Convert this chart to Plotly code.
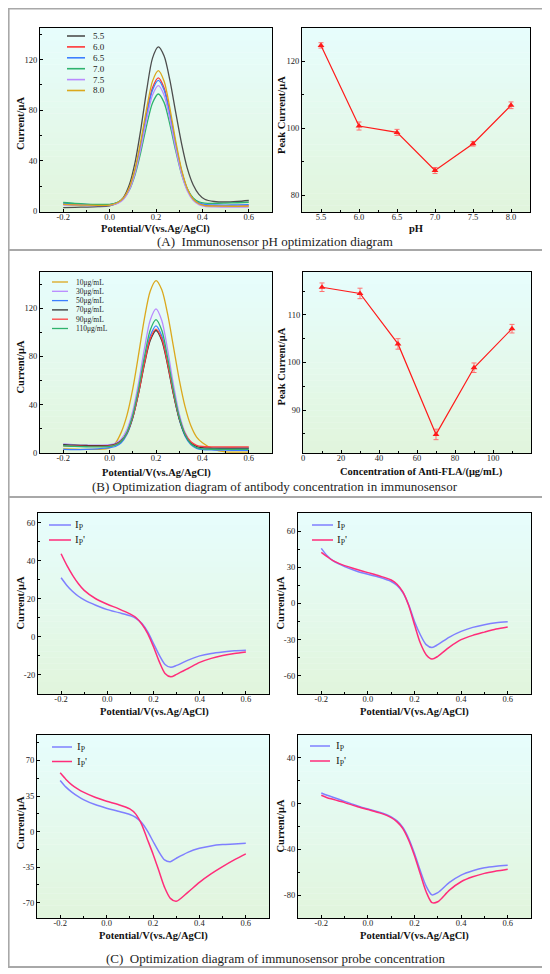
import plotly.graph_objects as go

SERIF = "Liberation Serif"

# ---------------- (A) pH optimization ----------------
ph_names = ["5.5", "6.0", "6.5", "7.0", "7.5", "8.0"]
ph_colors = ["#4d4d4d", "#ff3535", "#3d7fff", "#2eb36e", "#b98aff", "#dba81c"]
pot_a = [-0.2, -0.15, -0.1, -0.05, 0.0, 0.035, 0.06, 0.085, 0.11, 0.135, 0.16, 0.185, 0.21,
         0.235, 0.26, 0.285, 0.31, 0.335, 0.36, 0.385, 0.41, 0.45, 0.5, 0.55, 0.6]
cur_ph55 = [3.0, 3.2, 3.4, 3.7, 4.4, 6.6, 11.1, 21.0, 39.0, 65.5, 96.0, 121.2, 130.0,
            122.8, 103.5, 78.2, 53.8, 34.0, 21.1, 13.5, 9.6, 7.8, 7.4, 7.8, 8.6]
cur_ph60 = [5.8, 5.3, 5.0, 4.9, 5.1, 6.9, 10.4, 18.2, 32.3, 53.3, 77.6, 97.7, 105.5,
            97.6, 77.4, 53.1, 32.0, 17.5, 9.7, 6.1, 4.7, 4.3, 4.2, 4.2, 4.3]
cur_ph65 = [6.5, 5.9, 5.5, 5.3, 5.4, 7.1, 10.5, 18.1, 32.0, 52.5, 76.2, 95.9, 103.6,
            95.9, 76.2, 52.4, 31.8, 17.9, 10.3, 6.9, 5.5, 5.1, 5.0, 5.1, 5.3]
cur_ph70 = [7.0, 6.3, 5.8, 5.5, 5.6, 7.2, 10.2, 16.9, 29.2, 47.3, 68.3, 85.7, 92.8,
            86.0, 68.7, 47.8, 29.6, 17.4, 10.7, 7.6, 6.5, 6.3, 6.5, 6.8, 7.2]
cur_ph75 = [5.0, 4.8, 4.6, 4.5, 4.8, 6.3, 9.6, 16.9, 30.3, 50.1, 73.0, 92.0, 99.4,
            91.9, 72.7, 49.6, 29.6, 16.1, 8.7, 5.3, 4.0, 3.6, 3.4, 3.3, 3.3]
cur_ph80 = [5.5, 5.1, 4.9, 4.8, 5.0, 7.0, 10.7, 18.9, 33.9, 56.1, 81.7, 103.0, 111.3,
            102.9, 81.5, 55.6, 33.2, 18.1, 9.8, 6.0, 4.6, 4.2, 4.1, 4.0, 4.1]
ph_curves = [cur_ph55, cur_ph60, cur_ph65, cur_ph70, cur_ph75, cur_ph80]

ph_values = [5.5, 6.0, 6.5, 7.0, 7.5, 8.0]
ph_peak = [124.8, 100.7, 98.8, 87.4, 95.4, 106.9]
ph_err = [0.8, 1.2, 0.9, 0.9, 0.7, 1.0]

# ---------------- (B) antibody concentration ----------------
conc_names = ["10μg/mL", "30μg/mL", "50μg/mL", "70μg/mL", "90μg/mL", "110μg/mL"]
conc_colors = ["#dba81c", "#b98aff", "#3d7fff", "#333333", "#ff4040", "#2eb36e"]
pot_b = [-0.2, -0.15, -0.1, -0.05, 0.0, 0.025, 0.05, 0.075, 0.1, 0.125, 0.15, 0.175, 0.2,
         0.225, 0.25, 0.275, 0.3, 0.325, 0.35, 0.375, 0.4, 0.45, 0.5, 0.55, 0.6]
cur_c10 = [3.5, 3.2, 3.0, 3.0, 4.3, 8.2, 17.1, 31.4, 53.3, 81.7, 111.3, 134.1, 142.8,
           135.3, 115.2, 88.3, 61.0, 38.6, 22.7, 13.2, 8.5, 3.0, 1.0, 0.8, 0.8]
cur_c30 = [7.5, 6.8, 6.5, 6.5, 7.0, 8.1, 11.5, 19.4, 34.6, 58.2, 86.3, 110.0, 119.4,
           109.8, 85.6, 56.9, 32.7, 17.2, 9.1, 5.6, 4.5, 4.0, 4.0, 4.0, 4.0]
cur_c50 = [3.0, 2.8, 3.0, 3.5, 4.4, 5.4, 8.5, 15.6, 29.2, 50.4, 75.7, 97.0, 105.4,
           96.9, 75.3, 49.6, 28.1, 14.2, 7.0, 3.9, 2.9, 2.5, 2.3, 2.2, 2.2]
cur_c70 = [7.0, 6.5, 6.2, 6.0, 6.4, 7.4, 10.1, 16.8, 29.6, 49.6, 73.4, 93.2, 101.5,
           93.3, 72.9, 48.8, 28.4, 15.2, 8.3, 5.4, 4.4, 4.0, 4.0, 4.0, 4.0]
cur_c90 = [6.0, 5.7, 5.5, 5.5, 5.9, 6.9, 9.8, 16.6, 29.7, 50.0, 74.2, 94.6, 102.7,
           94.6, 74.1, 49.7, 29.3, 16.1, 9.3, 6.4, 5.4, 5.1, 5.0, 5.0, 5.0]
cur_c110 = [6.0, 5.5, 5.2, 5.0, 5.4, 6.5, 9.6, 17.0, 31.3, 53.4, 79.7, 101.8, 110.6,
            101.7, 79.1, 52.3, 29.8, 15.3, 7.7, 4.5, 3.4, 3.1, 3.0, 3.0, 3.0]
conc_curves = [cur_c10, cur_c30, cur_c50, cur_c70, cur_c90, cur_c110]

conc_values = [10, 30, 50, 70, 90, 110]
conc_peak = [115.8, 114.5, 103.9, 84.9, 98.9, 107.1]
conc_err = [0.9, 1.1, 1.1, 1.1, 1.0, 0.9]

# ---------------- (C) probe concentration ----------------
pot_c = [-0.2, -0.175, -0.15, -0.125, -0.1, -0.05, 0.0, 0.05, 0.1, 0.125, 0.15, 0.175,
         0.2, 0.225, 0.25, 0.275, 0.3, 0.35, 0.4, 0.45, 0.5, 0.55, 0.6]
ip_tl = [31.0, 27.0, 23.8, 21.3, 19.4, 16.6, 14.3, 12.7, 11.0, 9.6, 7.0, 2.6,
         -3.5, -9.6, -14.5, -16.0, -15.0, -12.2, -10.0, -8.7, -7.9, -7.3, -7.0]
ipp_tl = [43.6, 37.5, 32.3, 27.9, 24.4, 20.0, 17.1, 14.7, 11.9, 10.0, 6.6, 1.7,
          -5.2, -13.0, -19.2, -21.0, -19.7, -16.6, -13.4, -11.3, -9.8, -8.7, -7.9]
ip_tr = [45.7, 39.6, 35.5, 32.8, 30.6, 27.0, 24.2, 21.7, 18.2, 14.9, 9.1, -1.1,
         -14.9, -25.9, -34.1, -36.5, -34.1, -27.8, -23.1, -19.8, -17.6, -16.0, -15.1]
ipp_tr = [42.4, 38.8, 35.5, 33.3, 31.4, 28.4, 25.6, 22.8, 19.5, 16.0, 9.6, -1.7,
          -17.6, -32.8, -42.4, -46.0, -43.8, -36.1, -30.0, -26.4, -23.7, -21.2, -19.5]
ip_bl = [50.3, 43.7, 38.8, 34.8, 31.5, 26.6, 23.0, 20.0, 16.8, 14.1, 9.2, 1.0,
         -9.5, -19.7, -27.9, -29.6, -26.3, -20.4, -16.4, -14.1, -12.8, -12.2, -11.5]
ipp_bl = [57.8, 51.3, 46.0, 42.1, 38.8, 33.8, 29.9, 26.6, 22.3, 17.4, 7.6, -7.2,
          -22.0, -38.4, -54.9, -65.7, -68.6, -59.8, -50.0, -41.7, -34.5, -27.9, -22.0]
ip_br = [9.3, 7.3, 5.5, 3.8, 2.0, -1.5, -4.7, -7.6, -11.6, -15.1, -20.9, -30.5,
         -43.6, -58.7, -72.1, -79.8, -77.9, -68.9, -62.5, -58.7, -56.1, -54.7, -53.8]
ipp_br = [7.3, 5.2, 3.8, 2.3, 0.9, -2.3, -5.2, -8.1, -12.2, -16.0, -21.8, -32.0,
          -45.6, -61.6, -77.0, -86.5, -85.8, -75.6, -68.3, -64.0, -61.0, -59.0, -57.3]
ip_names = ["I<sub>P</sub>", "I<sub>P</sub>'"]
ip_colors = ["#7f7fff", "#ff2d7a"]

# tick labels
pot_ticks = [-0.2, 0.0, 0.2, 0.4, 0.6]
pot_labels = ["-0.2", "0.0", "0.2", "0.4", "0.6"]
ph_ticks = [5.5, 6.0, 6.5, 7.0, 7.5, 8.0]
ph_labels = ["5.5", "6.0", "6.5", "7.0", "7.5", "8.0"]
conc_ticks = [0, 20, 40, 60, 80, 100]
y_ticks = {
    1: [0, 40, 80, 120],
    2: [80, 100, 120],
    3: [0, 40, 80, 120],
    4: [90, 100, 110],
    5: [-20, 0, 20, 40, 60],
    6: [-60, -30, 0, 30, 60],
    7: [-70, -35, 0, 35, 70],
    8: [-80, -40, 0, 40],
}

# ---------------- layout geometry ----------------
# positions below are page pixels; the page body adds an 8 px margin
PAGE_W, PAGE_H = 550, 974
OFF = 8
W, H = PAGE_W - OFF, PAGE_H - OFF


def fx(p):
    return max(p - OFF, 0.6) / W


def fy(p):
    return 1 - max(p - OFF, 0.6) / H


# left, right, top, bottom of each plot area
areas = {
    1: (40, 272, 28, 212),
    2: (302, 530, 28, 212),
    3: (40, 272, 272, 453),
    4: (303, 531, 272, 453),
    5: (38, 269, 513, 694),
    6: (298, 531, 513, 694),
    7: (37, 269, 735, 918),
    8: (298, 531, 735, 918),
}
x_ranges = {1: [-0.3, 0.7], 2: [5.25, 8.25], 3: [-0.3, 0.7], 4: [0, 120],
            5: [-0.3, 0.7], 6: [-0.3, 0.7], 7: [-0.3, 0.7], 8: [-0.3, 0.7]}
y_ranges = {1: [-0.5, 145], 2: [75, 130], 3: [0, 150], 4: [81, 119],
            5: [-30, 65], 6: [-75, 75], 7: [-85, 95], 8: [-100, 60]}

POT = "Potential/V(vs.Ag/AgCl)"
CUR = "Current/μA"
PEAK = "Peak Current/μA"
# axis title text with (x centre, y) and (x, y centre) page positions
x_titles = {1: (POT, 155, 229), 2: ("pH", 416, 229), 3: (POT, 156, 473),
            4: ("Concentration of Anti-FLA/(μg/mL)", 421, 472),
            5: (POT, 154, 712), 6: (POT, 414, 712), 7: (POT, 153, 936), 8: (POT, 414, 936)}
y_titles = {1: (CUR, 20, 124), 2: (PEAK, 282, 115), 3: (CUR, 19.5, 367), 4: (PEAK, 280.5, 367),
            5: (CUR, 19.5, 603), 6: (CUR, 279.5, 603), 7: (CUR, 19.5, 823), 8: (CUR, 279.5, 826)}


def ax(k):
    return ("x", "y") if k == 1 else (f"x{k}", f"y{k}")


fig = go.Figure()

# (A) left: DPV curves at different pH
for name, col, ys in zip(ph_names, ph_colors, ph_curves):
    fig.add_trace(go.Scatter(x=pot_a, y=ys, mode="lines", name=name,
                             line=dict(color=col, width=1.3, shape="spline", smoothing=0.8),
                             xaxis="x", yaxis="y", showlegend=False))

# (A) right: peak current vs pH
fig.add_trace(go.Scatter(x=ph_values, y=ph_peak, mode="lines+markers",
                         line=dict(color="#ff1a1a", width=1.2),
                         marker=dict(symbol="triangle-up", size=6, color="#ff1a1a"),
                         error_y=dict(type="data", array=ph_err, color="#ff7070",
                                      thickness=1, width=2.5),
                         xaxis="x2", yaxis="y2", showlegend=False))

# (B) left: DPV curves at different antibody concentrations
for name, col, ys in zip(conc_names, conc_colors, conc_curves):
    fig.add_trace(go.Scatter(x=pot_b, y=ys, mode="lines", name=name,
                             line=dict(color=col, width=1.3, shape="spline", smoothing=0.8),
                             xaxis="x3", yaxis="y3", showlegend=False))

# (B) right: peak current vs concentration
fig.add_trace(go.Scatter(x=conc_values, y=conc_peak, mode="lines+markers",
                         line=dict(color="#ff1a1a", width=1.2),
                         marker=dict(symbol="triangle-up", size=6, color="#ff1a1a"),
                         error_y=dict(type="data", array=conc_err, color="#ff7070",
                                      thickness=1, width=2.5),
                         xaxis="x4", yaxis="y4", showlegend=False))

# (C) four CV panels
c_sets = {5: (ip_tl, ipp_tl), 6: (ip_tr, ipp_tr), 7: (ip_bl, ipp_bl), 8: (ip_br, ipp_br)}
for k, pair in c_sets.items():
    xa, ya = ax(k)
    for ys, col, name in zip(pair, ip_colors, ip_names):
        fig.add_trace(go.Scatter(x=pot_c, y=ys, mode="lines", name=name,
                                 line=dict(color=col, width=1.5, shape="spline", smoothing=0.8),
                                 xaxis=xa, yaxis=ya, showlegend=False))

# axes
tickfont = dict(family=SERIF, size=8.5, color="#222")
titlefont = dict(family=SERIF, size=10.5, color="#111", weight="bold")
x_minor = {2: 0.25, 4: 10}
y_minor = {1: 20, 2: 10, 3: 20, 4: 5, 5: 10, 6: 15, 7: 17.5, 8: 20}

layout_axes = {}
for k, (l, r, t, b) in areas.items():
    xa, ya = ax(k)
    xname = "xaxis" if k == 1 else f"xaxis{k}"
    yname = "yaxis" if k == 1 else f"yaxis{k}"
    common = dict(showline=True, mirror=True, linecolor="black", linewidth=1.2,
                  ticks="inside", ticklen=3, tickwidth=1, tickcolor="black",
                  showgrid=False, zeroline=False, tickfont=tickfont, automargin=False)
    if k == 2:
        xt, xl = ph_ticks, ph_labels
    elif k == 4:
        xt, xl = conc_ticks, [str(v) for v in conc_ticks]
    else:
        xt, xl = pot_ticks, pot_labels
    layout_axes[xname] = dict(
        common, domain=[fx(l), fx(r)], anchor=ya, range=x_ranges[k],
        tickmode="array", tickvals=xt, ticktext=xl, ticklabelstandoff=-3,
        minor=dict(tickmode="linear", tick0=xt[0], dtick=x_minor.get(k, 0.1),
                   ticks="inside", ticklen=2, tickcolor="black"))
    yt = y_ticks[k]
    layout_axes[yname] = dict(
        common, domain=[fy(b), fy(t)], anchor=xa, range=y_ranges[k],
        tickmode="array", tickvals=yt, ticktext=[str(v) for v in yt],
        minor=dict(tickmode="linear", tick0=yt[0], dtick=y_minor[k],
                   ticks="inside", ticklen=2, tickcolor="black"))

fig.update_layout(**layout_axes)

# gradient plot backgrounds (cyan at top -> pale green at bottom)
shapes = []
top_rgb = (231, 253, 253)
bot_rgb = (225, 245, 220)
n_bands = 30
for k in areas:
    xa, ya = ax(k)
    for i in range(n_bands):
        f = (i + 0.5) / n_bands
        c = tuple(round(bot_rgb[j] + (top_rgb[j] - bot_rgb[j]) * f) for j in range(3))
        shapes.append(dict(type="rect", xref=f"{xa} domain", yref=f"{ya} domain",
                           x0=0, x1=1, y0=i / n_bands, y1=(i + 1) / n_bands + 0.002,
                           fillcolor=f"rgb{c}", line=dict(width=0), layer="below"))

# panel frames
for top, bottom in [(7, 250), (250, 497), (497, 967)]:
    shapes.append(dict(type="rect", xref="paper", yref="paper",
                       x0=fx(7), x1=fx(543), y0=fy(bottom), y1=fy(top),
                       line=dict(color="#a8a8a8", width=2), fillcolor="rgba(0,0,0,0)"))

annotations = []
captions = [("(A)  Immunosensor pH optimization diagram", 241),
            ("(B) Optimization diagram of antibody concentration in immunosensor", 487),
            ("(C)  Optimization diagram of immunosensor probe concentration", 958)]
for text, y in captions:
    annotations.append(dict(text=text, x=fx(275), y=fy(y), xref="paper", yref="paper",
                            showarrow=False, xanchor="center", yanchor="middle",
                            font=dict(family=SERIF, size=13, color="#222")))

# axis titles
for text, x, y in x_titles.values():
    annotations.append(dict(text=text, x=fx(x), y=fy(y), xref="paper", yref="paper",
                            showarrow=False, xanchor="center", yanchor="middle",
                            font=titlefont))
for text, x, y in y_titles.values():
    annotations.append(dict(text=text, x=fx(x), y=fy(y), xref="paper", yref="paper",
                            showarrow=False, xanchor="center", yanchor="middle",
                            textangle=-90, font=titlefont))


# hand-drawn legends (page pixels)
def add_legend(names, colors, x0, x1, xt, y0, dy, size, lw):
    for i, (n, c) in enumerate(zip(names, colors)):
        y = y0 + i * dy
        shapes.append(dict(type="line", xref="paper", yref="paper",
                           x0=fx(x0), x1=fx(x1), y0=fy(y), y1=fy(y),
                           line=dict(color=c, width=lw)))
        annotations.append(dict(text=n, x=fx(xt), y=fy(y), xref="paper", yref="paper",
                                showarrow=False, xanchor="left", yanchor="middle",
                                font=dict(family=SERIF, size=size, color="#222")))


add_legend(ph_names, ph_colors, 67, 85, 91, 36, 10.9, 9, 1.6)
add_legend(conc_names, conc_colors, 52, 68, 74, 282, 9.3, 7.5, 1.3)
add_legend(ip_names, ip_colors, 49, 71, 73, 525, 15, 11, 1.5)
add_legend(ip_names, ip_colors, 312, 333, 335, 525, 15, 11, 1.5)
add_legend(ip_names, ip_colors, 52, 72, 75, 747, 14.5, 11, 1.5)
add_legend(ip_names, ip_colors, 310, 330, 334, 746, 15, 11, 1.5)

fig.update_layout(width=W, height=H, margin=dict(l=0, r=0, t=0, b=0),
                  paper_bgcolor="white", plot_bgcolor="white",
                  shapes=shapes, annotations=annotations, showlegend=False,
                  font=dict(family=SERIF))

fig.write_html("out.html")
